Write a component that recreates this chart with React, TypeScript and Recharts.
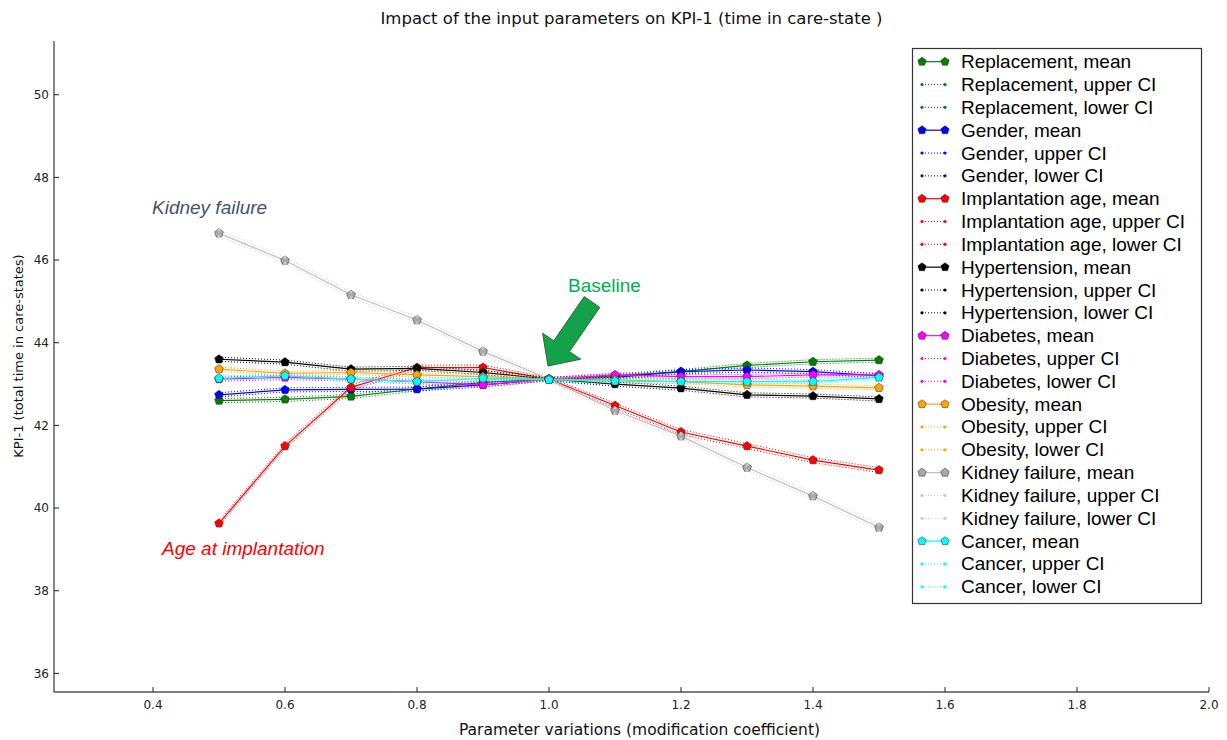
import React from 'react';
import { LineChart, Line, XAxis, YAxis } from 'recharts';

const xValues = [0.5, 0.6, 0.7, 0.8, 0.9, 1.0, 1.1, 1.2, 1.3, 1.4, 1.5];
const xTicks = [0.4, 0.6, 0.8, 1.0, 1.2, 1.4, 1.6, 1.8, 2.0];
const yTicks = [36, 38, 40, 42, 44, 46, 48, 50];

const replacementMean = [42.60, 42.63, 42.70, 42.88, 43.04, 43.12, 43.20, 43.30, 43.45, 43.54, 43.58];
const replacementUpper = [42.65, 42.68, 42.75, 42.93, 43.09, 43.16, 43.25, 43.35, 43.50, 43.59, 43.63];
const replacementLower = [42.55, 42.58, 42.65, 42.83, 42.99, 43.08, 43.15, 43.25, 43.40, 43.49, 43.53];

const genderMean = [42.74, 42.86, 42.87, 42.88, 42.98, 43.12, 43.16, 43.30, 43.34, 43.30, 43.20];
const genderUpper = [42.79, 42.91, 42.92, 42.93, 43.03, 43.16, 43.21, 43.35, 43.39, 43.35, 43.25];
const genderLower = [42.69, 42.81, 42.82, 42.83, 42.93, 43.08, 43.11, 43.25, 43.29, 43.25, 43.15];

const implantMean = [39.63, 41.50, 42.92, 43.40, 43.40, 43.12, 42.48, 41.84, 41.50, 41.16, 40.92];
const implantUpper = [39.69, 41.56, 42.98, 43.46, 43.46, 43.16, 42.54, 41.90, 41.56, 41.22, 40.98];
const implantLower = [39.57, 41.44, 42.86, 43.34, 43.34, 43.08, 42.42, 41.78, 41.44, 41.10, 40.86];

const hyperMean = [43.60, 43.53, 43.36, 43.38, 43.28, 43.12, 43.00, 42.90, 42.74, 42.71, 42.64];
const hyperUpper = [43.65, 43.58, 43.41, 43.43, 43.33, 43.16, 43.05, 42.95, 42.79, 42.76, 42.69];
const hyperLower = [43.55, 43.48, 43.31, 43.33, 43.23, 43.08, 42.95, 42.85, 42.69, 42.66, 42.59];

const diabetesMean = [43.12, 43.16, 43.12, 43.06, 42.98, 43.12, 43.22, 43.18, 43.18, 43.22, 43.22];
const diabetesUpper = [43.17, 43.21, 43.17, 43.11, 43.03, 43.16, 43.27, 43.23, 43.23, 43.27, 43.27];
const diabetesLower = [43.07, 43.11, 43.07, 43.01, 42.93, 43.08, 43.17, 43.13, 43.13, 43.17, 43.17];

const obesityMean = [43.36, 43.26, 43.28, 43.22, 43.18, 43.12, 43.10, 43.06, 42.98, 42.95, 42.91];
const obesityUpper = [43.41, 43.31, 43.33, 43.27, 43.23, 43.16, 43.15, 43.11, 43.03, 43.00, 42.96];
const obesityLower = [43.31, 43.21, 43.23, 43.17, 43.13, 43.08, 43.05, 43.01, 42.93, 42.90, 42.86];

const kidneyMean = [46.65, 45.99, 45.16, 44.55, 43.79, 43.12, 42.36, 41.74, 40.98, 40.29, 39.53];
const kidneyUpper = [46.72, 46.06, 45.23, 44.62, 43.86, 43.17, 42.43, 41.81, 41.05, 40.36, 39.60];
const kidneyLower = [46.58, 45.92, 45.09, 44.48, 43.72, 43.07, 42.29, 41.67, 40.91, 40.22, 39.46];

const cancerMean = [43.14, 43.20, 43.12, 43.06, 43.14, 43.10, 43.07, 43.06, 43.06, 43.06, 43.16];
const cancerUpper = [43.19, 43.25, 43.17, 43.11, 43.19, 43.14, 43.12, 43.11, 43.11, 43.11, 43.21];
const cancerLower = [43.09, 43.15, 43.07, 43.01, 43.09, 43.06, 43.02, 43.01, 43.01, 43.01, 43.11];

const seriesDefs = [
  { key: 'rep', label: 'Replacement', line: '#008000', fill: '#008000', ci: '#008000', mean: replacementMean, upper: replacementUpper, lower: replacementLower },
  { key: 'gen', label: 'Gender', line: '#0000ff', fill: '#0000ff', ci: '#0000ff', mean: genderMean, upper: genderUpper, lower: genderLower },
  { key: 'imp', label: 'Implantation age', line: '#ff0000', fill: '#ff0000', ci: '#ff0000', mean: implantMean, upper: implantUpper, lower: implantLower },
  { key: 'hyp', label: 'Hypertension', line: '#000000', fill: '#000000', ci: '#000000', mean: hyperMean, upper: hyperUpper, lower: hyperLower },
  { key: 'dia', label: 'Diabetes', line: '#ff00ff', fill: '#ff00ff', ci: '#ff00ff', mean: diabetesMean, upper: diabetesUpper, lower: diabetesLower },
  { key: 'obe', label: 'Obesity', line: '#ffa500', fill: '#ffa500', ci: '#ffa500', mean: obesityMean, upper: obesityUpper, lower: obesityLower },
  { key: 'kid', label: 'Kidney failure', line: '#bdbdbd', fill: '#a9a9a9', ci: '#c8c8c8', mean: kidneyMean, upper: kidneyUpper, lower: kidneyLower },
  { key: 'can', label: 'Cancer', line: '#00ffff', fill: '#00ffff', ci: '#00ffff', mean: cancerMean, upper: cancerUpper, lower: cancerLower },
];

const data = xValues.map((x, i) => {
  const row: any = { x };
  seriesDefs.forEach((s) => {
    row[s.key + '_m'] = s.mean[i];
    row[s.key + '_u'] = s.upper[i];
    row[s.key + '_l'] = s.lower[i];
  });
  return row;
});

const pentagonPoints = (cx: number, cy: number, r: number) => {
  const pts: string[] = [];
  for (let k = 0; k < 5; k++) {
    const a = -Math.PI / 2 + (k * 2 * Math.PI) / 5;
    pts.push(`${cx + r * Math.cos(a)},${cy + r * Math.sin(a)}`);
  }
  return pts.join(' ');
};

const makePentDot = (fill: string) => (props: any) => {
  const { cx, cy, index } = props;
  if (cx == null || cy == null) return <g key={`p-${index}`} />;
  return (
    <polygon
      key={`p-${index}`}
      points={pentagonPoints(cx, cy, 4.6)}
      fill={fill}
      stroke="#222"
      strokeOpacity={0.7}
      strokeWidth={0.7}
    />
  );
};

const makeSmallDot = (fill: string) => (props: any) => {
  const { cx, cy, index } = props;
  if (cx == null || cy == null) return <g key={`d-${index}`} />;
  return <circle key={`d-${index}`} cx={cx} cy={cy} r={1.5} fill={fill} />;
};

const tickStyle = { fontFamily: 'DejaVu Sans', fontSize: 12, fill: '#222' };
const axisStroke = '#555';

const legendRows: { text: string; color: string; fill: string; mean: boolean }[] = [];
seriesDefs.forEach((s) => {
  legendRows.push({ text: `${s.label}, mean`, color: s.line, fill: s.fill, mean: true });
  legendRows.push({ text: `${s.label}, upper CI`, color: s.ci, fill: s.ci, mean: false });
  legendRows.push({ text: `${s.label}, lower CI`, color: s.ci, fill: s.ci, mean: false });
});

const Overlay = () => {
  const lx = 912.5;
  const ly = 48.5;
  const rowH = 22.83;
  const firstRow = 61.7;
  return (
    <svg
      width={1227}
      height={740}
      style={{ position: 'absolute', left: 0, top: 0, pointerEvents: 'none' }}
    >
      <text x={631.5} y={18} textAnchor="middle" dominantBaseline="central" fontFamily="DejaVu Sans" fontSize={16.5} fill="#111">
        Impact of the input parameters on KPI-1 (time in care-state )
      </text>
      <text x={639.5} y={730} textAnchor="middle" dominantBaseline="central" fontFamily="DejaVu Sans" fontSize={15.5} fill="#111">
        Parameter variations (modification coefficient)
      </text>
      <text
        x={18}
        y={356}
        textAnchor="middle"
        dominantBaseline="central"
        fontFamily="DejaVu Sans"
        fontSize={13}
        fill="#111"
        transform="rotate(-90 18 356)"
      >
        KPI-1 (total time in care-states)
      </text>

      <text x={152} y={214} fontFamily="Liberation Sans, Arial" fontStyle="italic" fontSize={19} fill="#44546A">
        Kidney failure
      </text>
      <text x={162} y={555} fontFamily="Liberation Sans, Arial" fontStyle="italic" fontSize={19} fill="#ff0000">
        Age at implantation
      </text>
      <text x={568} y={292} fontFamily="Liberation Sans, Arial" fontSize={19} fill="#00B050">
        Baseline
      </text>
      <polygon
        points="584.2,296.6 553.8,340.8 542.6,333.2 548,366 580.6,359.2 569.4,351.6 599.8,307.4"
        fill="#13A24A"
        stroke="#2D6A30"
        strokeWidth={1}
      />

      <rect x={lx} y={ly} width={289} height={555} fill="#fff" stroke="#333" strokeWidth={1.2} />
      {legendRows.map((r, i) => {
        const cy = firstRow + i * rowH;
        return (
          <g key={i}>
            {r.mean ? (
              <>
                <line x1={922} y1={cy} x2={945} y2={cy} stroke={r.color} strokeWidth={1.2} />
                <polygon points={pentagonPoints(922, cy, 4.4)} fill={r.fill} stroke="#222" strokeOpacity={0.7} strokeWidth={0.7} />
                <polygon points={pentagonPoints(945, cy, 4.4)} fill={r.fill} stroke="#222" strokeOpacity={0.7} strokeWidth={0.7} />
              </>
            ) : (
              <>
                <line x1={922} y1={cy} x2={945} y2={cy} stroke={r.color} strokeWidth={1} strokeDasharray="1 2" />
                <circle cx={922} cy={cy} r={1.6} fill={r.fill} />
                <circle cx={945} cy={cy} r={1.6} fill={r.fill} />
              </>
            )}
            <text x={961} y={cy} dominantBaseline="central" fontFamily="Liberation Sans, Arial" fontSize={19} fill="#000">
              {r.text}
            </text>
          </g>
        );
      })}
    </svg>
  );
};

export default function App() {
  return (
    <div style={{ position: 'absolute', left: 0, top: 0, width: 1227, height: 740, background: '#fff' }}>
      <LineChart width={1227} height={740} data={data} margin={{ top: 41, right: 18, bottom: 0, left: 0 }}>
        <XAxis
          xAxisId="bottom"
          dataKey="x"
          type="number"
          orientation="bottom"
          domain={[0.25, 2.0]}
          ticks={xTicks}
          allowDataOverflow
          height={48}
          tickSize={-5}
          tickMargin={13}
          tick={tickStyle}
          tickFormatter={(v: number) => v.toFixed(1)}
          axisLine={{ stroke: axisStroke, strokeWidth: 1.4 }}
          tickLine={{ stroke: '#222' }}
        />
        <XAxis
          xAxisId="top"
          dataKey="x"
          type="number"
          orientation="top"
          domain={[0.25, 2.0]}
          ticks={xTicks}
          allowDataOverflow
          height={0}
          tickSize={-5}
          tick={false}
          axisLine={{ stroke: axisStroke, strokeWidth: 1.4 }}
          tickLine={{ stroke: '#222' }}
        />
        <YAxis
          yAxisId="left"
          type="number"
          orientation="left"
          domain={[35.55, 51.3]}
          ticks={yTicks}
          allowDataOverflow
          width={54}
          tickSize={-5}
          tickMargin={10}
          tick={tickStyle}
          axisLine={{ stroke: axisStroke, strokeWidth: 1.4 }}
          tickLine={{ stroke: '#222' }}
        />
        <YAxis
          yAxisId="right"
          type="number"
          orientation="right"
          domain={[35.55, 51.3]}
          ticks={yTicks}
          allowDataOverflow
          width={0}
          tickSize={-5}
          tick={false}
          axisLine={{ stroke: axisStroke, strokeWidth: 1.4 }}
          tickLine={{ stroke: '#222' }}
        />
        {seriesDefs.flatMap((s) => [
          <Line
            key={s.key + '_m'}
            xAxisId="bottom"
            yAxisId="left"
            dataKey={s.key + '_m'}
            stroke={s.line}
            strokeWidth={1.2}
            dot={makePentDot(s.fill)}
            activeDot={false}
            isAnimationActive={false}
            type="linear"
          />,
          <Line
            key={s.key + '_u'}
            xAxisId="bottom"
            yAxisId="left"
            dataKey={s.key + '_u'}
            stroke={s.ci}
            strokeWidth={1}
            strokeDasharray="1 2"
            dot={makeSmallDot(s.ci)}
            activeDot={false}
            isAnimationActive={false}
            type="linear"
          />,
          <Line
            key={s.key + '_l'}
            xAxisId="bottom"
            yAxisId="left"
            dataKey={s.key + '_l'}
            stroke={s.ci}
            strokeWidth={1}
            strokeDasharray="1 2"
            dot={makeSmallDot(s.ci)}
            activeDot={false}
            isAnimationActive={false}
            type="linear"
          />,
        ])}
      </LineChart>
      <Overlay />
    </div>
  );
}
